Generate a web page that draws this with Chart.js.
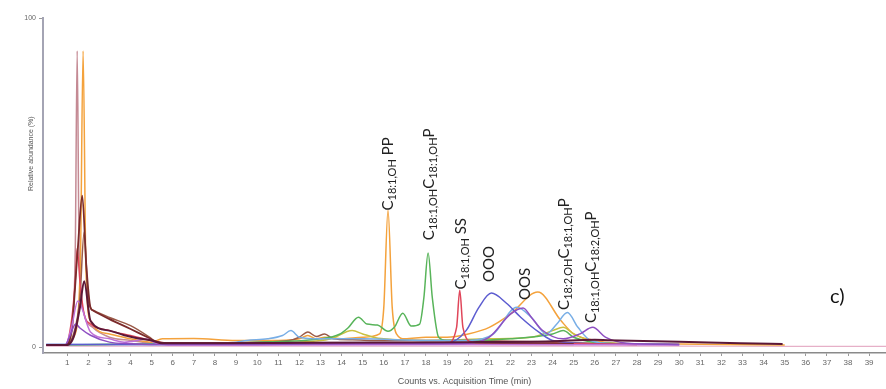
<!DOCTYPE html>
<html>
<head>
<meta charset="utf-8">
<title>Chromatogram</title>
<script src="https://cdn.jsdelivr.net/npm/chart.js@4/dist/chart.umd.min.js"></script>
<style>
  html, body { margin: 0; padding: 0; background: #fff; }
  #wrap { width: 886px; height: 389px; position: relative; }
</style>
</head>
<body>
<div id="wrap"><canvas id="chart"></canvas></div>
<script>
// Retention-time traces (min) and relative abundance (%) for each overlaid run
const maroonTime  = [0, 0.9, 1.3, 1.6, 1.8, 2.1, 3, 3.7, 4.5, 5, 5.5, 8, 12, 16, 20, 24, 26, 26.6, 30, 32.9, 34.9];
const maroonAbund = [0.6, 0.6, 3, 12, 20, 8, 5, 3.6, 2.5, 2, 1.2, 1.2, 1.3, 1.4, 1.5, 1.8, 2.2, 2.1, 1.6, 1.2, 0.9];

const orangeTime  = [0, 0.9, 1.3, 1.62, 1.75, 1.88, 2.1, 3, 4, 5, 5.5, 7, 9, 10, 11, 12, 12.4, 12.8, 13.2, 14, 15, 15.8, 16.0, 16.2, 16.4, 16.6, 17, 18, 19, 20, 21, 22, 23.3, 24.4, 25, 26, 27, 29, 32, 35];
const orangeAbund = [0.6, 0.6, 3, 25, 90, 25, 8, 4, 2.5, 1.5, 2.5, 2.6, 2, 2, 2, 2.5, 3.5, 2.5, 3, 2.5, 3, 4, 12, 41.6, 12, 4, 2.5, 3, 3, 4, 6, 10, 16.7, 8, 4, 2, 1.2, 1, 0.8, 0.6];

const mauveTime  = [0, 0.9, 1.2, 1.38, 1.47, 1.56, 1.8, 2.2, 3, 4, 5, 6, 12, 18, 25];
const mauveAbund = [0.6, 0.6, 4, 30, 90, 30, 10, 6, 3, 2, 1.2, 1, 1, 0.9, 0.8];

const darkRedTime  = [0, 0.9, 1.2, 1.5, 1.71, 1.9, 2.1, 2.2, 3, 4, 4.8, 5.3, 6, 10, 15, 20, 25];
const darkRedAbund = [0.6, 0.6, 5, 30, 46, 25, 12, 11.2, 8.5, 5.5, 3, 1.5, 1.2, 1.2, 1.2, 1.3, 1.0];

const redTime  = [0, 0.9, 1.2, 1.4, 1.47, 1.6, 1.8, 2.1, 3, 4, 5, 6, 10, 15, 19, 19.45, 19.6, 19.75, 20.2, 22, 25, 28];
const redAbund = [0.6, 0.6, 8, 22, 30, 20, 10, 7, 5, 3.5, 2, 1, 1, 1, 1.2, 6, 17.3, 6, 1.5, 1.2, 1, 0.8];

const brownTime  = [0, 0.9, 1.3, 1.6, 1.8, 2.0, 2.3, 3, 4, 4.9, 5.3, 6, 8, 10, 11.5, 12.0, 12.4, 12.8, 13.2, 13.6, 14.5, 16, 18, 20, 22, 24, 26];
const brownAbund = [0.6, 0.6, 4, 15, 35, 14, 11, 9, 6.5, 3, 1.2, 1.3, 1.3, 1.5, 2, 3, 4.6, 3.2, 4, 2.5, 2.2, 2, 2, 2, 1.8, 1.5, 1.2];

const purpleTime  = [0, 0.9, 1.1, 1.4, 1.6, 2.1, 3, 4, 5, 6, 10, 15, 20, 21, 22.0, 22.6, 23.0, 23.5, 24.5, 25.3, 25.9, 26.5, 27.5, 30];
const purpleAbund = [0.6, 0.6, 3, 7, 5.8, 3.6, 1.5, 1, 0.8, 0.8, 0.8, 1, 1.2, 3, 10, 11.9, 9, 5.2, 2.5, 4, 6, 3, 1.2, 0.8];

const violetTime  = [0, 0.9, 1.2, 1.5, 2.1, 3, 3.7, 4.8, 5.2, 6, 10, 20, 30];
const violetAbund = [0.6, 0.6, 6, 14, 4.6, 2.5, 1.5, 2.4, 1.2, 0.6, 0.6, 0.8, 0.6];

const slateTime  = [0, 5, 10, 15, 19.0, 19.9, 20.5, 21.1, 21.8, 22.5, 23.4, 24.0, 26, 30];
const slateAbund = [0.8, 0.8, 1, 1, 1.2, 5, 12, 16.4, 13.4, 9, 4.3, 2, 1, 0.8];

const skyTime  = [0, 5, 9, 9.5, 10.5, 11.2, 11.6, 12, 13, 15, 18, 20, 21.2, 22.3, 23, 23.7, 24.2, 24.7, 25.2, 25.8, 27, 30];
const skyAbund = [0.8, 0.8, 1.5, 2, 2.5, 3.5, 5, 3, 2.5, 2.5, 2, 2, 4, 12.1, 9, 4, 7, 10.5, 6, 2, 1, 0.8];

const greenTime  = [0, 5, 10, 13, 13.9, 14.3, 14.8, 15.2, 15.7, 16.2, 16.5, 16.9, 17.3, 17.7, 17.9, 18.1, 18.3, 18.6, 19, 20, 22, 24, 24.5, 25, 26, 28];
const greenAbund = [0.6, 1, 1.5, 2.5, 3.9, 5.8, 9.1, 7, 6.7, 4.8, 6, 10.3, 6.4, 7, 15, 28.6, 15, 3, 2, 2, 2.5, 4, 5, 3, 1.5, 1];

const oliveTime  = [0, 6, 12, 13.5, 14.5, 15.0, 15.5, 16, 18, 21, 23, 24.0, 24.5, 25.0, 26, 28];
const oliveAbund = [0.6, 1, 1.5, 2.5, 5, 4, 3, 2.5, 2, 2.5, 3, 5, 6, 4, 1.5, 0.8];

const blushTime  = [0, 10, 20, 30, 35, 39.8];
const blushAbund = [0.3, 0.3, 0.3, 0.3, 0.2, 0.2];

// Peak annotations: retention time, abundance at which the label starts, label parts
const peakTime = [16.2, 18.15, 19.65, 21.0, 22.7, 24.55, 25.8];
const peakBase = [41.5, 32.5, 17.5, 19.8, 14.3, 11.3, 7.3];
const peakNames = [
  [['C', 0], ['18:1,OH', 1], [' PP', 0]],
  [['C', 0], ['18:1,OH', 1], ['C', 0], ['18:1,OH', 1], ['P', 0]],
  [['C', 0], ['18:1,OH', 1], [' SS', 0]],
  [['OOO', 0]],
  [['OOS', 0]],
  [['C', 0], ['18:2,OH', 1], ['C', 0], ['18:1,OH', 1], ['P', 0]],
  [['C', 0], ['18:1,OH', 1], ['C', 0], ['18:2,OH', 1], ['P', 0]]
];

// Axis ticks
const xTickValues = Array.from({ length: 39 }, (_, i) => i + 1);
const yTickValues = [0, 100];

function toPoints(times, values) {
  return times.map((t, i) => ({ x: t, y: values[i] }));
}

function trace(times, values, color, width) {
  return {
    data: toPoints(times, values),
    borderColor: color,
    borderWidth: width || 1.5,
    pointRadius: 0,
    fill: false,
    cubicInterpolationMode: 'monotone'
  };
}

const datasets = [
  trace(maroonTime, maroonAbund, '#5c1838', 2),
  trace(purpleTime, purpleAbund, '#8e4fc2'),
  trace(violetTime, violetAbund, '#c070d8'),
  trace(darkRedTime, darkRedAbund, '#7b2b2b', 1.8),
  trace(redTime, redAbund, '#e0465a'),
  trace(slateTime, slateAbund, '#5c5cd0'),
  trace(skyTime, skyAbund, '#78aee6'),
  trace(greenTime, greenAbund, '#58b45a'),
  trace(brownTime, brownAbund, '#9a5a48'),
  trace(oliveTime, oliveAbund, '#c8c040'),
  trace(orangeTime, orangeAbund, '#f4a23c'),
  trace(mauveTime, mauveAbund, '#c48a94'),
  trace(blushTime, blushAbund, '#e6b0c8', 1.2)
];

const labelFont = 'Lato, "Open Sans", sans-serif';

const peakLabels = {
  id: 'peakLabels',
  afterDatasetsDraw(chart) {
    const { ctx, scales: { x, y }, chartArea } = chart;
    ctx.save();
    ctx.fillStyle = '#222';
    ctx.textAlign = 'left';
    ctx.textBaseline = 'alphabetic';
    peakNames.forEach((parts, i) => {
      const px = x.getPixelForValue(peakTime[i]);
      const py = y.getPixelForValue(peakBase[i]);
      ctx.save();
      ctx.translate(px, py);
      ctx.rotate(-Math.PI / 2);
      let pos = 0;
      parts.forEach(([txt, sub]) => {
        ctx.font = sub ? '11px ' + labelFont : '15px ' + labelFont;
        ctx.fillText(txt, pos, sub ? 8 : 5);
        pos += ctx.measureText(txt).width;
      });
      ctx.restore();
    });

    // panel tag
    ctx.font = '20px ' + labelFont;
    ctx.fillStyle = '#111';
    ctx.textAlign = 'left';
    ctx.textBaseline = 'middle';
    ctx.fillText('c)', chartArea.right - 56, y.getPixelForValue(15.5));

    // vertical axis title
    ctx.save();
    ctx.translate(31, chartArea.top + (chartArea.bottom - chartArea.top) * 0.405);
    ctx.rotate(-Math.PI / 2);
    ctx.font = '7px "Liberation Sans", Arial, sans-serif';
    ctx.fillStyle = '#555';
    ctx.textAlign = 'center';
    ctx.textBaseline = 'middle';
    ctx.fillText('Relative abundance (%)', 0, 0);
    ctx.restore();
    ctx.restore();
  }
};

new Chart(document.getElementById('chart'), {
  type: 'line',
  data: { datasets },
  options: {
    responsive: true,
    maintainAspectRatio: false,
    animation: false,
    layout: { padding: { top: 18, right: 0, bottom: 0, left: 0 } },
    plugins: { legend: { display: false }, tooltip: { enabled: false } },
    scales: {
      x: {
        type: 'linear',
        min: -0.15,
        max: 39.8,
        afterBuildTicks(scale) { scale.ticks = xTickValues.map(v => ({ value: v })); },
        afterFit(scale) { scale.height = 36; },
        grid: { display: true, drawOnChartArea: false, drawTicks: true, tickLength: 3, color: '#999' },
        border: { display: true, color: '#8a8a8a', width: 1.5 },
        ticks: {
          autoSkip: false,
          maxRotation: 0,
          padding: 2,
          color: '#666',
          font: { family: '"Liberation Sans", Arial, sans-serif', size: 8 }
        },
        title: {
          display: true,
          text: 'Counts vs. Acquisition Time (min)',
          color: '#555',
          padding: { top: 1, bottom: 2 },
          font: { family: '"Liberation Sans", Arial, sans-serif', size: 9 }
        }
      },
      y: {
        type: 'linear',
        min: -1.8,
        max: 100,
        afterBuildTicks(scale) { scale.ticks = yTickValues.map(v => ({ value: v })); },
        afterFit(scale) { scale.width = 43; },
        grid: { display: true, drawOnChartArea: false, drawTicks: true, tickLength: 4, color: '#999' },
        border: { display: true, color: '#a4a4b4', width: 2 },
        ticks: {
          padding: 3,
          color: '#666',
          font: { family: '"Liberation Sans", Arial, sans-serif', size: 7 }
        }
      }
    }
  },
  plugins: [peakLabels]
});
</script>
</body>
</html>
